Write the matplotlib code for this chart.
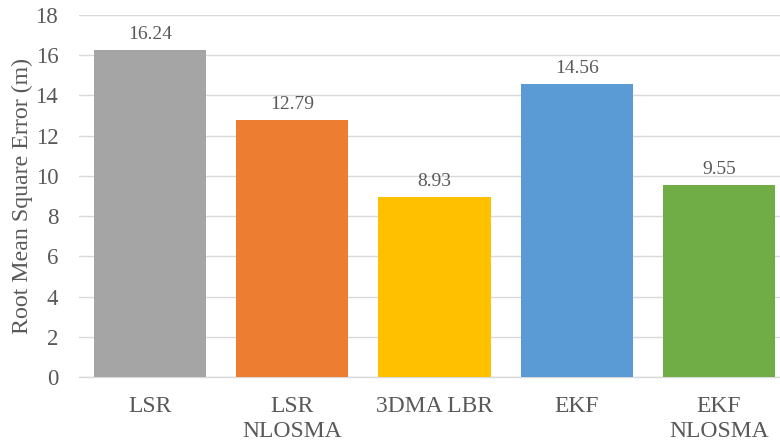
import matplotlib
matplotlib.use("Agg")
import matplotlib.pyplot as plt

categories = ["LSR", "LSR\nNLOSMA", "3DMA LBR", "EKF", "EKF\nNLOSMA"]
rmse = [16.24, 12.79, 8.93, 14.56, 9.55]
colors = ["#A5A5A5", "#ED7D31", "#FFC000", "#5B9BD5", "#70AD47"]
yticks = [0, 2, 4, 6, 8, 10, 12, 14, 16, 18]

plt.rcParams["font.family"] = ["Liberation Serif", "DejaVu Serif"]
text_color = "#595959"

fig = plt.figure(figsize=(7.8, 4.48), dpi=100)
ax = fig.add_axes([0.1013, 0.1585, 0.8987, 0.808])

x = list(range(len(categories)))
bars = ax.bar(x, rmse, width=0.79, color=colors, zorder=3)

for xi, v in zip(x, rmse):
    ax.text(xi, v + 0.35, f"{v:.2f}", ha="center", va="bottom",
            fontsize=14, color=text_color)

ax.set_ylim(0, 18)
ax.set_xlim(-0.5, 4.43)
ax.set_yticks(yticks)
ax.set_yticklabels([str(t) for t in yticks], fontsize=16.5, color=text_color)
ax.set_xticks(x)
ax.set_xticklabels(categories, fontsize=17, color=text_color, linespacing=1.2)
ax.tick_params(axis="both", length=0)
ax.tick_params(axis="y", pad=15)
ax.tick_params(axis="x", pad=14)

ax.yaxis.grid(True, color="#D9D9D9", linewidth=1.0, zorder=0)
for side in ["top", "right", "left"]:
    ax.spines[side].set_visible(False)
ax.spines["bottom"].set_color("#D9D9D9")
ax.spines["bottom"].set_linewidth(1.0)

ax.set_ylabel("Root Mean Square Error (m)", fontsize=17.2, color=text_color,
              labelpad=2)

fig.savefig("out.png", dpi=100)
